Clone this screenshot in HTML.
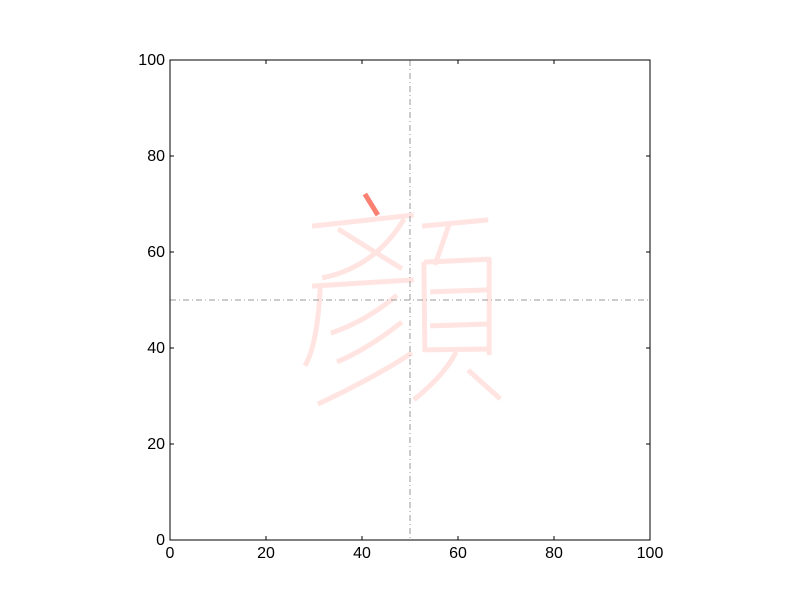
<!DOCTYPE html>
<html><head><meta charset="utf-8"><style>
body{margin:0;background:#fff;}
svg text{font-family:"Liberation Sans",sans-serif;font-size:16px;fill:#000;}
</style></head><body>
<svg id="chart" width="800" height="600" viewBox="0 0 800 600" xmlns="http://www.w3.org/2000/svg">
<rect width="800" height="600" fill="#fff"/>
<g id="strokes"></g>
<g id="guides"></g>
<rect x="170" y="60" width="480" height="480" fill="none" stroke="#000" stroke-width="1"/>
<g id="ticks"></g>
</svg>
<script>
const xTicks=[0,20,40,60,80,100];
const yTicks=[0,20,40,60,80,100];
const guideX=[50];
const guideY=[50];
const activeStroke=[[40.6,72.1],[43.3,67.7]];
const s1=[[29.6,65.4],[50.8,67.7]];
const s2=[[48.8,66.9],[41.5,58.8],[31.7,54.6]];
const s3=[[35,64.8],[48.3,56.5]];
const s4=[[29.6,52.9],[50.8,54.2]];
const s5=[[31.3,52.7],[30.2,42.5],[28.1,36.3]];
const s6=[[47.3,51],[40.6,46.3],[33.5,43.1]];
const s7=[[48.3,45.4],[41.5,40.6],[34.8,37.1]];
const s8=[[50.4,39],[41.7,33.8],[30.8,28.3]];
const s9=[[52.5,65.4],[66.3,66.7]];
const s10=[[58.3,66.2],[55.2,57.3]];
const s11=[[52.9,57.9],[53.1,39.2]];
const s12=[[52.9,57.9],[66.5,58.5],[66.5,38.5]];
const s13=[[54.2,51.7],[66.3,52.1]];
const s14=[[54.2,44.6],[66.3,45]];
const s15=[[53.1,39.6],[66.5,39.8]];
const s16=[[59.6,39.2],[56.3,34.4],[50.8,29.2]];
const s17=[[62.1,35.4],[68.8,29.4]];
const faded=[s1,s2,s3,s4,s5,s6,s7,s8,s9,s10,s11,s12,s13,s14,s15,s16,s17];
const corner=[s12];
const NS="http://www.w3.org/2000/svg";
const X=v=>170+v*4.8, Y=v=>540-v*4.8;
function mk(t,p){const e=document.createElementNS(NS,t);for(const k in p)e.setAttribute(k,p[k]);return e;}
const sg=document.getElementById('strokes');
function pathD(pts,isCorner){
  const P=pts.map(p=>[X(p[0]),Y(p[1])]);
  if(P.length===3&&!isCorner){
    const cx=2*P[1][0]-(P[0][0]+P[2][0])/2, cy=2*P[1][1]-(P[0][1]+P[2][1])/2;
    return 'M'+P[0][0]+','+P[0][1]+' Q'+cx+','+cy+' '+P[2][0]+','+P[2][1];
  }
  return 'M'+P.map(p=>p[0]+','+p[1]).join(' L');
}
function drawStroke(pts,color,name,isCorner){
  const el=mk('path',{d:pathD(pts,isCorner),fill:'none',stroke:color,'stroke-width':5,'stroke-linejoin':'round'});
  
  
  sg.appendChild(el);
}
faded.forEach((s,i)=>drawStroke(s,'#ffe4e1','stroke-'+(i+1),corner.includes(s)));
drawStroke(activeStroke,'#fa8072','active-stroke',false);
const gg=document.getElementById('guides');
guideX.forEach(v=>{const el=mk('line',{x1:X(v),x2:X(v),y1:60,y2:540,stroke:'#999','stroke-width':1,'stroke-dasharray':'6,3,1,3'});

gg.appendChild(el);});
guideY.forEach(v=>{const el=mk('line',{x1:170,x2:650,y1:Y(v),y2:Y(v),stroke:'#999','stroke-width':1,'stroke-dasharray':'6,3,1,3'});

gg.appendChild(el);});
const tg=document.getElementById('ticks');
xTicks.forEach(v=>{
  [[540,536],[60,64]].forEach(([a,b])=>{const l=mk('line',{x1:X(v),x2:X(v),y1:a,y2:b,stroke:'#000'});tg.appendChild(l);});
  const t=mk('text',{x:X(v),y:558,'text-anchor':'middle'});t.textContent=v;
  
  tg.appendChild(t);
});
yTicks.forEach(v=>{
  [[170,174],[650,646]].forEach(([a,b])=>{const l=mk('line',{x1:a,x2:b,y1:Y(v),y2:Y(v),stroke:'#000'});tg.appendChild(l);});
  const t=mk('text',{x:165,y:Y(v)+5,'text-anchor':'end'});t.textContent=v;
  
  tg.appendChild(t);
});
</script>
</body></html>
